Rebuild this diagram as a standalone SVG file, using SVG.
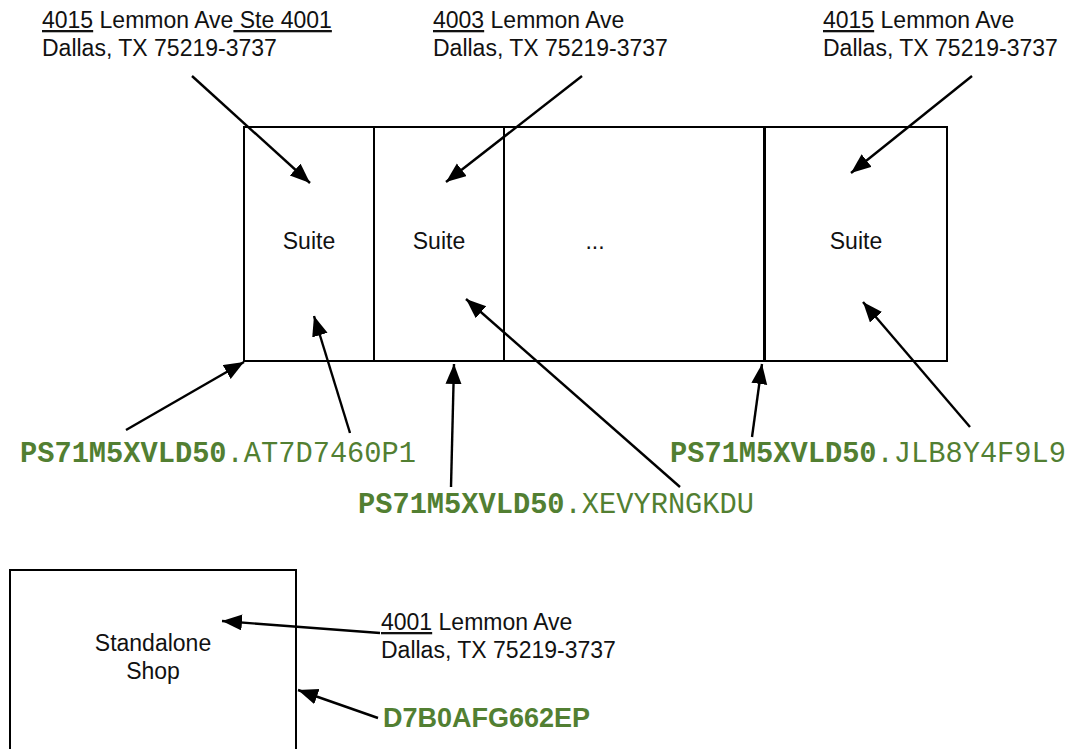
<svg xmlns="http://www.w3.org/2000/svg" width="1070" height="749" viewBox="0 0 1070 749">
<style>
.t{font-family:"Liberation Sans",Arial,sans-serif;font-size:23px;fill:#111}
.u{text-decoration:underline}
.m{font-family:"Liberation Mono","Courier New",monospace;font-size:28.7px;fill:#527f32}
.b{font-weight:bold}
.box{fill:#fff;stroke:#000;stroke-width:2}
.c line{stroke:#000;stroke-width:2.4}
</style>
<defs>
<marker id="ah" markerUnits="userSpaceOnUse" markerWidth="22" markerHeight="18" refX="20" refY="8" orient="auto">
<path d="M0,0 L20,8 L0,16 Z" fill="#000"/>
</marker>
</defs>
<rect width="1070" height="749" fill="#fff"/>
<g id="building">
<rect class="box" x="244" y="127" width="703" height="234"/>
<line x1="374" y1="127" x2="374" y2="361" stroke="#000" stroke-width="2"/>
<line x1="504" y1="127" x2="504" y2="361" stroke="#000" stroke-width="2"/>
<line x1="764.5" y1="127" x2="764.5" y2="361" stroke="#000" stroke-width="3"/>
</g>
<g id="suite1"><text class="t" x="309" y="249" text-anchor="middle">Suite</text></g>
<g id="suite2"><text class="t" x="439" y="249" text-anchor="middle">Suite</text></g>
<g id="suite3"><text class="t" x="595" y="249" text-anchor="middle">...</text></g>
<g id="suite4"><text class="t" x="856" y="249" text-anchor="middle">Suite</text></g>
<g id="shop">
<rect class="box" x="10" y="570" width="286" height="190"/>
<text class="t" x="153" y="651" text-anchor="middle">Standalone</text>
<text class="t" x="153" y="679" text-anchor="middle">Shop</text>
</g>
<g id="addr1"><text class="t" x="42" y="28"><tspan class="u">4015</tspan> Lemmon Ave<tspan class="u"> Ste 4001</tspan></text><text class="t" x="42" y="56">Dallas, TX 75219-3737</text></g>
<g id="addr2"><text class="t" x="433" y="28"><tspan class="u">4003</tspan> Lemmon Ave</text><text class="t" x="433" y="56">Dallas, TX 75219-3737</text></g>
<g id="addr3"><text class="t" x="823" y="28"><tspan class="u">4015</tspan> Lemmon Ave</text><text class="t" x="823" y="56">Dallas, TX 75219-3737</text></g>
<g id="addr4"><text class="t" x="381" y="630"><tspan class="u">4001</tspan> Lemmon Ave</text><text class="t" x="381" y="658">Dallas, TX 75219-3737</text></g>
<g id="id1"><text class="m" x="20" y="462"><tspan class="b">PS71M5XVLD50</tspan>.AT7D7460P1</text></g>
<g id="id2"><text class="m" x="358" y="513"><tspan class="b">PS71M5XVLD50</tspan>.XEVYRNGKDU</text></g>
<g id="id3"><text class="m" x="670" y="462"><tspan class="b">PS71M5XVLD50</tspan>.JLB8Y4F9L9</text></g>
<g id="id4"><text x="383" y="727" font-family="'Liberation Sans',Arial,sans-serif" font-weight="bold" font-size="27" fill="#527f32">D7B0AFG662EP</text></g>
<g class="c" id="connectors">
<line x1="192" y1="76" x2="310" y2="183" marker-end="url(#ah)"/>
<line x1="582" y1="76" x2="446" y2="182" marker-end="url(#ah)"/>
<line x1="972" y1="76" x2="851" y2="173" marker-end="url(#ah)"/>
<line x1="126" y1="430" x2="244" y2="362" marker-end="url(#ah)"/>
<line x1="350" y1="433" x2="314" y2="316" marker-end="url(#ah)"/>
<line x1="451" y1="487" x2="454" y2="364" marker-end="url(#ah)"/>
<line x1="680" y1="487" x2="466" y2="299" marker-end="url(#ah)"/>
<line x1="752" y1="437" x2="762" y2="364" marker-end="url(#ah)"/>
<line x1="970" y1="427" x2="863" y2="302" marker-end="url(#ah)"/>
<line x1="380" y1="633" x2="222" y2="621" marker-end="url(#ah)"/>
<line x1="378" y1="718" x2="298" y2="690" marker-end="url(#ah)"/>
</g>
</svg>
